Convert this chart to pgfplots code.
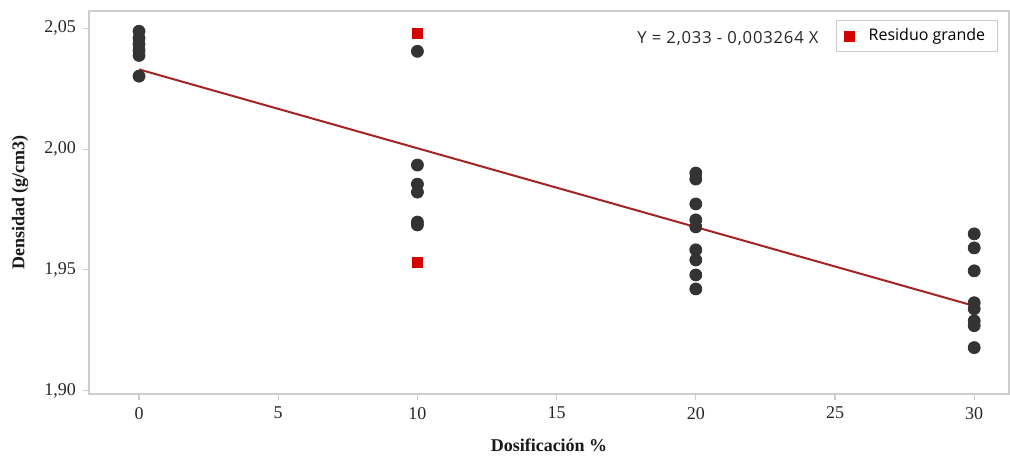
\documentclass[border=0pt]{standalone}
\usepackage{fontspec}
\setmainfont{Liberation Serif}
\newfontfamily\sansf{Open Sans}
\newfontfamily\sanseq[LetterSpace=5]{Open Sans}
\usepackage{pgfplots}
\pgfplotsset{compat=1.18}

\definecolor{ptc}{RGB}{51,51,51}
\definecolor{resc}{RGB}{210,0,0}
\definecolor{fitc}{RGB}{165,35,35}
\definecolor{framec}{RGB}{205,205,205}

\begin{document}
\begin{tikzpicture}
\begin{axis}[
  at={(0,0)}, anchor=south west,
  scale only axis, width=460pt, height=191.5pt,
  xmin=-1.797, xmax=31.25, ymin=1.8986, ymax=2.0572,
  xtick={0,5,...,30}, ytick={1.90,1.95,2.00,2.05},
  axis line style={framec, line width=1pt},
  tick style={framec, line width=0.6pt}, major tick length=3pt, tick align=outside,
  xtick pos=bottom, ytick pos=left,
  yticklabel style={/pgf/number format/fixed, /pgf/number format/fixed zerofill, /pgf/number format/precision=2, /pgf/number format/use comma},
  /pgf/number format/assume math mode=true,
  ticklabel style={font=\fontsize{9}{10}\selectfont, text=black!85},
  xlabel={\textbf{Dosificación \%}}, ylabel={\textbf{Densidad (g/cm3)}},
  label style={font=\fontsize{9}{10}\selectfont, text=black!90},
  xlabel style={at={(axis description cs:0.5,-0.1332)}, anchor=center},
  ylabel style={at={(axis description cs:-0.075,0.5)}, anchor=center},
  legend style={at={(0.812,0.9765)}, anchor=north west, draw=framec, line width=0.6pt,
    font=\sansf\fontsize{8}{9}\selectfont, inner xsep=4pt, inner ysep=2pt},
  legend cell align=left,
]
\addplot[only marks, mark=*, mark size=3pt, color=ptc, forget plot] coordinates {
 (0,2.0488) (0,2.0459) (0,2.0434) (0,2.0409) (0,2.0388) (0,2.0302)
 (10,2.0405) (10,1.9934) (10,1.9855) (10,1.9822) (10,1.9698) (10,1.9686)
 (20,1.9901) (20,1.9876) (20,1.9773) (20,1.9707) (20,1.9678) (20,1.9583) (20,1.9541) (20,1.9479) (20,1.9421)
 (30,1.9649) (30,1.9591) (30,1.9496) (30,1.9364) (30,1.9339) (30,1.9289) (30,1.9269) (30,1.9178)
};
\addplot[only marks, mark=square*, mark size=2.5pt, color=resc] coordinates {(10,2.048) (10,1.953)};
\addlegendentry{\hspace{5pt}Residuo grande\hspace{2pt}}
\addplot[fitc, line width=1pt, forget plot] coordinates {(0,2.033) (30,1.93508)};
\node[anchor=east, font=\sanseq\fontsize{8.3}{9}\selectfont, text=black!85] at (axis cs:24.66,2.0458) {Y = 2,033 - 0,003264 X};
\end{axis}
\pgfresetboundingbox
\path (-44.5pt,-30.5pt) rectangle (460.5pt,197pt);
\end{tikzpicture}
\end{document}
